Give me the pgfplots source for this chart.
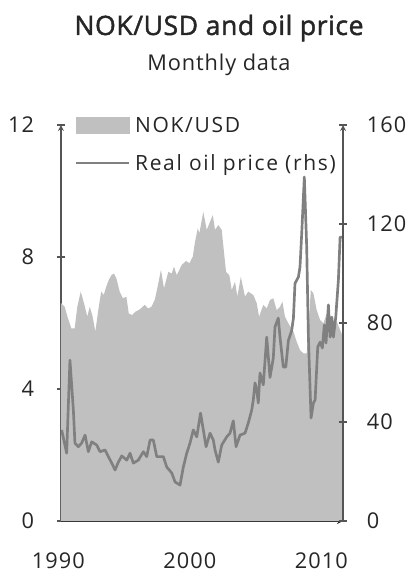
\documentclass[border=0pt]{standalone}
\usepackage{fontspec}
\setmainfont{Open Sans}[LetterSpace=5]
\newfontfamily\legfont{Open Sans}[LetterSpace=8]
\newfontfamily\subfont{Open Sans}[LetterSpace=4]
\newfontfamily\titlefont{Open Sans}[FakeBold=1.6, LetterSpace=2]
\usepackage{pgfplots}
\pgfplotsset{compat=1.18}
\definecolor{areagray}{HTML}{C0C0C0}
\definecolor{linegray}{HTML}{808080}
\definecolor{axisgray}{HTML}{555555}
\definecolor{txt}{HTML}{262626}
\newcommand\tickfont{\fontsize{16.3}{19}\selectfont}

\begin{document}
\begin{tikzpicture}
\useasboundingbox (0,0) rectangle (309pt,429pt);
\pgfplotsset{
  base/.style={
    at={(45.75pt,38.25pt)}, anchor=south west,
    scale only axis, width=211.5pt, height=297pt,
    xmin=1990, xmax=2011.44,
    axis line style={draw=axisgray, line width=1pt, -},
    tick style={draw=axisgray, line width=1pt},
    tick align=inside, major tick length=5.5pt,
    /pgf/number format/assume math mode=true,
    ticklabel style={font=\tickfont, text=txt},
  }
}

% NOK/USD, left axis
\begin{axis}[base,
  axis x line=bottom, axis y line=left,
  x axis line style={draw=black!85},
  ymin=0, ymax=12, ytick={0,4,8,12},
  xtick={1990,2000,2010},
  xticklabel style={/pgf/number format/1000 sep={}, anchor=base, inner sep=0pt, yshift=-33pt, xshift=-2pt},
  major x tick style={draw=none},
  yticklabel style={anchor=east, inner sep=0pt, xshift=-17.25pt},
]
\addplot[fill=areagray, draw=none] coordinates {
(1990.00,6.60) (1990.28,6.49) (1990.53,6.14) (1990.78,5.84) (1991.04,5.84)
(1991.24,6.49) (1991.50,6.95) (1991.75,6.60) (1992.00,6.19) (1992.18,6.49)
(1992.38,6.24) (1992.61,5.74) (1992.87,6.49) (1993.06,6.95) (1993.25,6.85)
(1993.44,7.10) (1993.63,7.30) (1993.83,7.45) (1994.03,7.50) (1994.21,7.35)
(1994.46,6.95) (1994.71,6.75) (1994.97,6.80) (1995.15,6.29) (1995.40,6.24)
(1995.65,6.34) (1995.98,6.41) (1996.37,6.55) (1996.62,6.44) (1996.87,6.49)
(1997.13,6.70) (1997.32,7.05) (1997.60,7.61) (1997.83,7.05) (1998.16,7.55)
(1998.42,7.50) (1998.59,7.71) (1998.80,7.45) (1999.18,7.76) (1999.51,7.88)
(1999.76,7.81) (2000.02,8.01) (2000.19,8.46) (2000.40,8.87) (2000.52,8.72)
(2000.82,9.37) (2001.08,8.82) (2001.33,9.07) (2001.54,9.27) (2001.71,8.82)
(2001.96,8.97) (2002.22,8.82) (2002.40,8.11) (2002.55,7.55) (2002.80,7.45)
(2002.98,7.00) (2003.23,7.25) (2003.41,6.80) (2003.67,7.40) (2003.99,6.80)
(2004.24,6.95) (2004.62,6.85) (2004.88,6.60) (2005.06,6.19) (2005.38,6.55)
(2005.64,6.44) (2005.89,6.70) (2006.14,6.75) (2006.40,6.39) (2006.65,6.49)
(2006.83,6.65) (2007.03,6.19) (2007.29,5.99) (2007.67,5.74) (2007.92,5.43)
(2008.17,5.18) (2008.43,5.08) (2008.68,5.08) (2008.81,5.69) (2008.99,7.00)
(2009.19,6.90) (2009.44,6.39) (2009.70,6.09) (2009.95,5.99) (2010.21,6.29)
(2010.59,6.09) (2010.97,6.04) (2011.22,5.79) (2011.44,5.58)
} \closedcycle;
\end{axis}

% real oil price, right axis
\begin{axis}[base,
  axis x line=none, axis y line=right,
  ymin=0, ymax=160, ytick={0,40,80,120,160},
  yticklabel style={anchor=west, inner sep=0pt, xshift=15pt},
  legend cell align=left,
  legend style={draw=none, fill=none, at={(0.0496,0.952)}, anchor=west,
    inner sep=0pt, outer sep=0pt, column sep=3.5pt, row sep=0pt,
    font=\legfont\fontsize{15.75}{18}\selectfont, text=txt,
    nodes={inner sep=0pt, text height=19.9pt, text depth=8.6pt}},
]
\addlegendimage{legend image code/.code={\fill[areagray] (0pt,-6pt) rectangle (40pt,6pt);}}
\addlegendentry{NOK/USD}
\addplot[linegray, line width=2pt, line join=round,
  legend image code/.code={\draw[linegray, line width=1.6pt] (0pt,0pt)--(40pt,0pt);}]
coordinates {
(1990.05,36.8) (1990.43,27.4) (1990.68,65) (1990.94,44.8) (1991.06,31.5)
(1991.32,30) (1991.57,31.5) (1991.83,34.7) (1992.08,28) (1992.33,32)
(1992.71,30.7) (1992.97,28) (1993.35,28.7) (1993.60,26) (1993.86,23.4)
(1994.11,20.6) (1994.36,23.8) (1994.62,26.3) (1995.00,24.6) (1995.25,27.4)
(1995.50,23.4) (1995.88,24.6) (1996.26,28) (1996.52,26) (1996.77,32.7)
(1997.02,32.7) (1997.28,26) (1997.78,26) (1998.04,21.8) (1998.42,19.4)
(1998.67,15.8) (1999.05,14.5) (1999.30,21.8) (1999.56,27.4) (1999.81,31.5)
(2000.06,36.8) (2000.32,34) (2000.61,43.6) (2000.82,36.8) (2001.03,30)
(2001.33,35.5) (2001.58,32.7) (2001.71,28.7) (2001.96,23.8) (2002.22,30.7)
(2002.60,34) (2002.85,35.5) (2003.10,40.5) (2003.31,30) (2003.61,34.7)
(2003.99,35.5) (2004.24,39.6) (2004.50,44.8) (2004.62,48.9) (2004.75,55.8)
(2004.88,53) (2005.00,47.7) (2005.13,59.8) (2005.38,55) (2005.64,74.3)
(2005.89,58) (2006.14,65.8) (2006.27,78.4) (2006.52,82) (2006.65,74.3)
(2006.90,62.2) (2007.09,62.2) (2007.29,73) (2007.54,77) (2007.67,82)
(2007.79,96) (2008.05,98.6) (2008.17,102.6) (2008.30,116) (2008.50,139)
(2008.68,110.7) (2008.81,74.3) (2009.01,41.6) (2009.19,47.7) (2009.32,48.9)
(2009.52,70.3) (2009.70,72.3) (2009.87,69.9) (2010.02,79.2) (2010.15,71.9)
(2010.33,87.3) (2010.46,74.3) (2010.59,82.4) (2010.71,74.3) (2010.89,82.4)
(2011.09,97.4) (2011.22,114.7) (2011.35,114.7)
};
\addlegendentry{Real oil price (rhs)}
\end{axis}

\node[anchor=base, text=txt, font=\titlefont\fontsize{20}{24}\selectfont]
  at (164.25pt,402.75pt) {NOK/USD and oil price};
\node[anchor=base, text=txt, font=\subfont\fontsize{16.3}{19}\selectfont]
  at (164.25pt,375.75pt) {Monthly data};
\end{tikzpicture}
\end{document}
